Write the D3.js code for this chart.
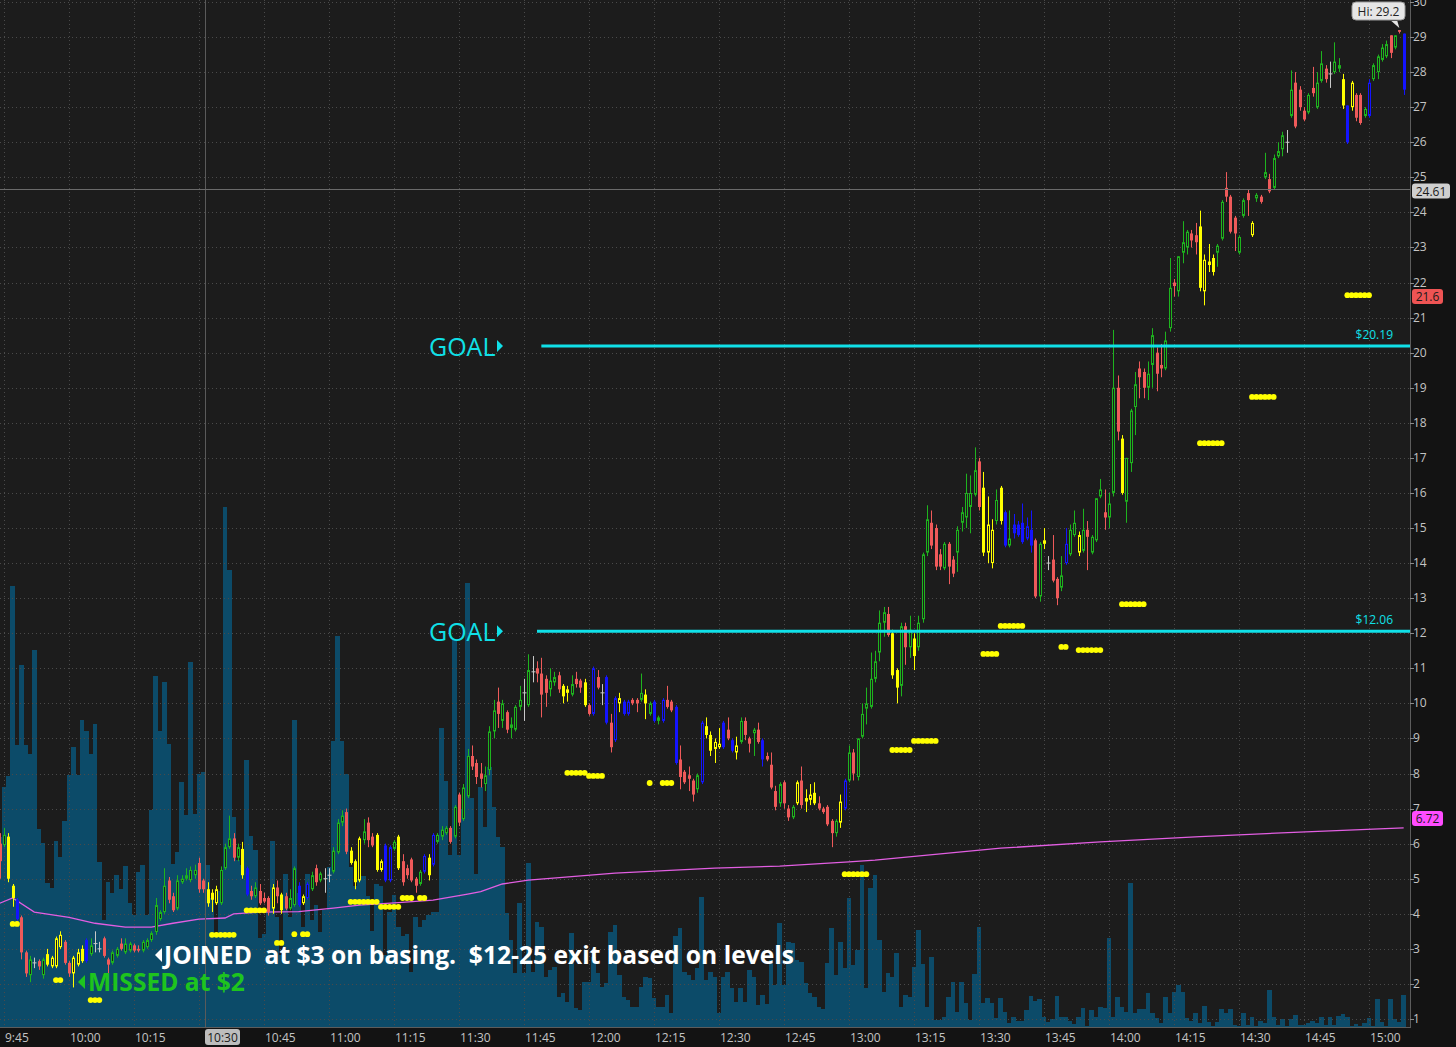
<!DOCTYPE html>
<html><head><meta charset="utf-8">
<script src="https://cdn.jsdelivr.net/npm/d3@7"></script>
<style>
body{margin:0;background:#141414;overflow:hidden}
svg{display:block;font-family:"Open Sans",sans-serif}
</style></head>
<body><svg id="chart" width="1456" height="1047"></svg>
<script>
// ---------- DATA ----------
// one-minute candles starting 9:44; [open, high, low, close, study colour]
const ohlc = [
[6.0,6.3,5.0,5.5,'r'],[5.96,6.45,5.9,6.25,'g'],[6.2,6.3,4.9,5.0,'y'],[4.8,4.85,4.2,4.45,'y'],[4.4,4.45,3.8,3.85,'b'],
[3.9,3.95,2.7,2.9,'r'],[2.9,2.95,2.2,2.3,'r'],[2.25,2.8,2.05,2.7,'g'],[2.6,2.75,2.45,2.6,'w'],[2.65,2.7,2.4,2.5,'r'],
[2.25,2.75,2.15,2.7,'g'],[2.85,3.0,2.5,2.55,'y'],[2.5,2.8,2.45,2.75,'y'],[2.5,3.35,2.45,3.3,'y'],[3.05,3.5,3.0,3.4,'y'],
[3.2,3.25,2.55,2.6,'r'],[2.6,2.65,2.2,2.3,'r'],[2.3,2.8,1.9,2.75,'y'],[2.55,3.0,2.5,2.9,'y'],[3.0,3.1,2.6,2.65,'y'],
[3.25,3.3,2.6,2.65,'b'],[2.85,3.3,2.8,3.1,'g'],[3.15,3.5,2.9,3.15,'w'],[3.0,3.2,2.9,3.15,'w'],[3.3,3.35,2.75,2.8,'r'],
[2.7,2.75,2.2,2.55,'r'],[2.6,2.95,2.55,2.9,'g'],[2.8,3.05,2.75,3.0,'g'],[3.15,3.3,2.95,3.0,'r'],[2.9,3.3,2.85,3.15,'g'],
[2.95,3.2,2.9,3.15,'g'],[3.1,3.15,2.9,2.95,'r'],[3.0,3.1,2.9,2.95,'r'],[2.95,3.25,2.9,3.2,'g'],[3.05,3.3,3.0,3.25,'g'],
[3.25,3.5,3.2,3.45,'g'],[3.48,4.45,3.4,4.25,'g'],[3.85,4.1,3.8,4.05,'g'],[4.05,5.3,4.0,4.8,'g'],[4.95,5.05,4.3,4.4,'r'],
[4.5,4.6,4.05,4.1,'r'],[4.15,5.1,4.1,4.95,'g'],[4.9,5.1,4.85,5.0,'g'],[5.0,5.3,4.95,5.1,'g'],[4.96,5.35,4.9,5.25,'g'],
[5.1,5.4,5.0,5.25,'g'],[5.45,5.6,4.6,4.7,'r'],[4.95,5.0,4.6,4.7,'r'],[4.7,4.9,4.2,4.3,'y'],[4.6,4.7,4.05,4.4,'y'],
[4.3,4.8,4.25,4.7,'y'],[4.3,5.35,4.25,5.25,'g'],[5.3,6.0,5.25,5.9,'g'],[5.9,6.8,5.85,6.15,'g'],[6.15,6.3,5.5,5.6,'r'],
[5.6,6.0,5.5,5.9,'g'],[5.85,6.05,5.0,5.1,'y'],[5.3,5.35,4.5,4.55,'b'],[4.65,4.8,4.4,4.5,'r'],[4.5,4.9,4.45,4.75,'g'],
[4.65,4.85,4.25,4.3,'r'],[4.45,4.6,4.3,4.35,'r'],[4.45,4.5,3.95,4.05,'r'],[4.15,4.85,4.0,4.75,'y'],[4.75,4.95,4.3,4.5,'r'],
[4.55,4.6,4.0,4.1,'y'],[4.5,4.6,4.1,4.15,'r'],[4.15,4.7,4.1,4.45,'g'],[4.25,5.35,4.2,5.3,'g'],[4.8,4.9,4.2,4.25,'b'],
[4.3,4.55,4.25,4.5,'y'],[4.45,4.9,4.4,4.85,'b'],[4.7,5.2,4.65,5.1,'g'],[5.3,5.4,4.8,4.9,'r'],[4.95,5.2,4.9,5.15,'g'],
[5.0,5.3,4.6,5.0,'w'],[5.1,5.3,4.9,5.1,'w'],[5.2,5.9,5.15,5.8,'g'],[5.75,6.7,5.7,6.6,'g'],[6.6,6.95,6.5,6.8,'g'],
[6.9,7.0,5.7,5.77,'r'],[5.8,5.9,5.4,5.45,'y'],[5.5,5.55,4.7,4.9,'y'],[4.95,6.2,4.9,6.15,'y'],[6.1,6.7,6.0,6.35,'g'],
[6.6,6.75,5.9,6.1,'r'],[6.2,6.3,5.9,5.95,'r'],[6.25,6.3,5.2,5.25,'y'],[5.25,5.55,5.2,5.5,'y'],[5.95,6.0,4.9,4.95,'b'],
[4.95,5.95,4.9,5.9,'b'],[5.85,6.1,5.8,6.05,'g'],[6.2,6.25,5.25,5.3,'y'],[5.5,5.7,4.8,4.9,'r'],[5.3,5.4,5.0,5.1,'r'],
[5.55,5.6,4.9,4.95,'r'],[5.0,5.05,4.6,4.8,'r'],[4.85,5.25,4.8,5.2,'g'],[5.2,5.7,5.15,5.65,'b'],[5.6,5.7,4.95,5.1,'y'],
[5.4,6.3,5.35,6.25,'b'],[6.05,6.3,6.0,6.25,'g'],[6.2,6.5,6.1,6.4,'g'],[6.3,6.5,6.25,6.45,'g'],[6.45,6.5,6.0,6.05,'r'],
[6.2,7.1,6.15,7.05,'g'],[7.4,7.45,6.5,6.6,'r'],[6.7,7.7,6.65,7.6,'g'],[7.35,8.7,7.3,8.5,'g'],[8.5,8.8,8.1,8.2,'r'],
[8.3,8.4,7.7,7.9,'r'],[8.0,8.3,7.6,7.85,'r'],[7.7,8.2,7.5,7.95,'g'],[8.1,9.35,7.95,9.2,'g'],[9.2,10.1,9.0,9.8,'g'],
[10.05,10.45,9.3,9.7,'r'],[9.5,10.1,9.3,10.0,'g'],[9.75,9.8,9.15,9.25,'r'],[9.3,9.6,9.0,9.4,'g'],[9.25,9.95,9.2,9.9,'g'],
[9.9,10.5,9.8,10.1,'g'],[10.3,10.7,9.5,10.3,'w'],[9.95,11.4,9.9,10.95,'g'],[10.9,11.35,10.6,10.9,'w'],[11.0,11.2,10.6,10.85,'r'],
[10.85,11.3,9.6,10.25,'r'],[10.7,10.8,9.9,10.3,'r'],[10.4,11.0,10.2,10.65,'g'],[10.6,10.9,10.5,10.75,'g'],[10.8,10.9,10.3,10.4,'r'],
[10.5,10.55,10.0,10.2,'y'],[10.3,10.5,10.05,10.4,'y'],[10.25,10.8,10.2,10.55,'g'],[10.7,10.9,10.45,10.55,'r'],[10.65,10.7,10.3,10.45,'r'],
[10.6,10.7,9.9,9.95,'y'],[9.95,10.0,9.65,9.7,'r'],[9.7,11.05,9.65,11.0,'b'],[10.75,10.95,10.4,10.45,'r'],[10.3,10.55,9.95,10.3,'w'],
[10.75,10.8,9.4,9.45,'b'],[9.45,9.7,8.6,8.75,'r'],[8.95,10.2,8.9,10.15,'b'],[10.0,10.3,9.75,10.15,'y'],[10.05,10.1,9.65,9.7,'b'],
[9.7,10.1,9.65,10.05,'b'],[10.1,10.15,9.95,10.0,'r'],[10.1,10.15,9.75,10.0,'r'],[10.1,10.85,10.05,10.3,'g'],[10.25,10.4,9.55,10.0,'y'],
[9.7,10.05,9.65,10.0,'g'],[10.05,10.1,9.45,9.5,'b'],[9.5,9.65,9.4,9.6,'g'],[9.5,10.15,9.45,10.1,'b'],[10.1,10.5,9.85,9.9,'r'],
[10.05,10.1,9.75,9.8,'r'],[9.9,9.95,8.25,8.3,'b'],[8.4,8.8,7.55,7.9,'r'],[8.05,8.1,7.7,7.75,'r'],[7.95,8.2,7.5,7.85,'r'],
[7.8,7.85,7.2,7.4,'r'],[7.55,8.0,7.45,7.95,'g'],[7.75,9.5,7.7,9.45,'b'],[9.35,9.6,9.0,9.1,'y'],[9.1,9.2,8.5,8.65,'y'],
[8.7,9.0,8.3,8.9,'y'],[8.75,9.3,8.7,8.85,'y'],[9.45,9.5,8.7,8.75,'b'],[9.25,9.6,8.95,9.0,'r'],[8.95,9.0,8.6,8.65,'b'],
[8.6,9.05,8.4,8.8,'y'],[8.9,9.6,8.85,9.5,'g'],[9.5,9.6,8.95,9.1,'r'],[9.0,9.05,8.6,8.85,'r'],[9.15,9.3,8.5,9.25,'g'],
[9.25,9.45,8.85,8.9,'r'],[8.95,9.0,8.2,8.4,'b'],[8.5,8.6,8.35,8.4,'r'],[8.25,8.6,7.55,7.6,'r'],[7.5,7.65,6.95,7.05,'r'],
[7.15,7.75,7.05,7.7,'g'],[7.75,7.8,7.0,7.15,'r'],[7.0,7.1,6.65,6.75,'r'],[6.75,7.1,6.7,7.05,'g'],[7.15,7.8,7.1,7.75,'y'],
[7.8,8.2,7.0,7.1,'r'],[7.2,7.55,6.9,7.3,'y'],[7.25,7.7,7.1,7.4,'y'],[7.45,7.75,7.1,7.15,'y'],[7.15,7.35,6.95,7.0,'r'],
[7.0,7.05,6.85,6.9,'r'],[7.05,7.1,6.5,6.55,'r'],[6.65,6.7,5.9,6.3,'r'],[6.3,6.7,6.2,6.65,'g'],[6.6,7.4,6.45,7.2,'y'],
[7.0,7.85,6.95,7.8,'b'],[7.8,8.8,7.75,8.6,'g'],[8.6,8.7,7.8,8.0,'r'],[7.9,9.0,7.8,9.0,'g'],[9.05,10.0,9.0,9.7,'g'],
[9.85,10.45,9.4,10.0,'g'],[9.9,11.45,9.85,10.7,'g'],[10.7,11.5,10.6,11.2,'g'],[11.45,12.65,11.2,12.3,'g'],[12.3,12.75,11.9,12.6,'g'],
[12.55,12.75,11.9,11.95,'r'],[12.0,12.1,10.7,10.8,'y'],[10.95,11.0,10.0,10.45,'y'],[10.5,12.3,10.2,12.2,'g'],[12.2,12.3,11.1,11.6,'r'],
[11.6,12.5,11.3,12.1,'g'],[11.85,12.0,10.95,11.35,'y'],[11.6,12.5,11.5,12.3,'g'],[12.4,14.3,12.3,14.25,'g'],[14.3,15.65,14.2,15.25,'g'],
[15.15,15.5,14.4,14.5,'r'],[15.0,15.1,13.8,13.9,'r'],[14.25,14.4,13.8,13.9,'r'],[13.85,14.6,13.8,14.55,'g'],[14.55,14.6,13.4,13.9,'r'],
[14.1,14.2,13.6,13.7,'r'],[14.3,15.05,13.75,14.95,'g'],[15.15,15.6,14.9,15.45,'g'],[15.3,16.55,15.0,16.0,'g'],[15.6,16.5,14.85,16.0,'g'],
[15.95,17.3,15.9,16.65,'g'],[16.9,17.0,15.5,15.6,'r'],[16.15,16.6,14.2,14.3,'y'],[14.3,15.9,14.0,15.1,'y'],[14.0,15.25,13.85,14.95,'y'],
[15.2,16.1,15.1,15.8,'g'],[16.15,16.2,15.1,15.2,'y'],[15.45,15.5,14.45,14.5,'b'],[14.5,15.5,14.45,14.7,'g'],[15.1,15.4,14.7,14.85,'b'],
[15.1,15.2,14.75,14.8,'b'],[15.15,15.7,14.55,14.6,'b'],[14.7,15.3,14.65,15.05,'b'],[14.95,15.5,14.3,14.5,'b'],[14.65,14.7,13.0,13.05,'r'],
[13.05,14.6,12.9,14.55,'g'],[14.55,15.0,14.4,14.65,'y'],[14.0,14.2,13.8,14.0,'w'],[14.1,14.8,13.45,13.5,'r'],[13.55,13.6,12.8,13.0,'r'],
[13.3,14.2,13.2,13.65,'g'],[14.0,15.0,13.95,14.55,'b'],[14.25,15.1,14.2,14.95,'g'],[14.8,15.5,14.75,15.15,'g'],[14.3,14.9,14.2,14.8,'y'],
[14.35,15.55,14.3,14.95,'g'],[14.95,15.2,13.8,14.75,'r'],[14.3,14.8,14.25,14.75,'g'],[14.65,15.85,14.6,15.85,'g'],[15.9,16.4,15.85,16.1,'g'],
[15.45,16.1,14.95,15.3,'r'],[15.3,16.0,15.0,15.7,'g'],[16.0,20.65,15.9,19.0,'g'],[19.0,19.35,17.5,17.75,'r'],[17.55,17.65,15.95,16.0,'y'],
[15.75,17.0,15.15,17.0,'g'],[16.85,18.4,16.6,18.35,'g'],[18.45,19.45,17.65,19.1,'g'],[19.55,19.75,18.7,19.3,'r'],[19.45,19.55,18.7,19.0,'r'],
[19.0,19.75,18.65,19.4,'g'],[19.65,20.7,19.0,20.5,'g'],[20.0,20.15,18.9,19.4,'r'],[19.65,20.25,19.3,19.55,'r'],[19.55,20.6,19.5,20.35,'g'],
[20.7,22.7,20.6,21.85,'g'],[22.0,22.1,21.6,21.9,'r'],[21.75,22.75,21.6,22.75,'g'],[22.85,23.75,22.55,23.15,'g'],[23.0,23.5,22.8,23.45,'g'],
[23.4,23.5,23.0,23.2,'r'],[23.35,23.7,22.8,23.15,'r'],[23.6,24.05,21.75,21.85,'y'],[21.75,22.8,21.35,22.65,'y'],[22.6,23.1,22.3,22.5,'y'],
[22.7,22.8,22.2,22.3,'y'],[22.85,23.1,22.45,23.05,'g'],[23.25,24.35,23.2,24.3,'g'],[24.7,25.15,24.3,24.45,'r'],[24.45,24.5,23.4,23.45,'r'],
[23.85,23.9,22.9,23.4,'r'],[22.85,23.35,22.8,23.3,'g'],[23.9,24.4,23.85,24.35,'g'],[24.55,24.65,23.9,24.35,'r'],[23.35,23.75,23.3,23.7,'y'],
[24.4,24.55,24.3,24.5,'g'],[24.45,24.5,24.25,24.3,'r'],[25.0,25.7,24.95,25.15,'g'],[24.95,25.1,24.55,24.6,'r'],[24.7,25.65,24.65,25.55,'g'],
[25.6,26.0,25.55,25.75,'g'],[25.8,26.3,25.6,26.2,'g'],[26.0,26.35,25.7,26.0,'w'],[26.75,28.05,26.7,27.5,'g'],[27.7,28.0,26.4,26.45,'r'],
[27.5,27.6,26.9,27.0,'r'],[26.9,27.0,26.6,26.65,'r'],[26.85,27.4,26.8,27.35,'g'],[27.55,28.15,27.3,27.4,'r'],[27.0,28.0,26.95,27.7,'g'],
[27.75,28.6,27.7,28.25,'g'],[28.1,28.2,27.7,27.8,'r'],[27.95,28.3,27.55,27.95,'w'],[28.0,28.85,27.95,28.3,'g'],[28.1,28.4,28.0,28.2,'g'],
[27.8,27.95,26.95,27.05,'y'],[27.05,27.05,25.95,26.0,'b'],[27.0,27.75,26.9,27.7,'y'],[27.35,27.4,26.6,26.7,'r'],[27.35,27.4,26.5,26.55,'r'],
[26.75,27.0,26.7,26.95,'g'],[26.75,27.8,26.7,27.7,'b'],[27.8,28.25,27.75,28.2,'g'],[28.0,28.5,27.8,28.45,'g'],[28.35,28.8,28.3,28.7,'g'],
[28.45,28.9,28.4,28.8,'g'],[29.05,29.05,28.4,28.55,'r'],[28.7,29.05,28.65,29.05,'g'],[29.2,29.2,29.1,29.15,'r'],[29.1,29.1,27.35,27.5,'b']
];
// volume per minute (thousands of shares)
const volume = [
190,240,251,441,282,362,282,273,377,198,184,144,139,186,170,206,252,280,252,307,
296,273,303,165,107,145,134,152,138,161,124,112,155,162,112,217,351,296,345,283,
163,175,245,212,365,213,253,255,162,129,91,136,520,457,210,167,162,267,191,177,
89,93,117,186,110,72,153,110,307,134,100,153,107,122,95,117,160,286,391,286,
253,160,141,148,151,131,96,143,141,72,115,132,100,91,93,55,110,100,107,112,
115,115,299,246,172,387,172,218,444,229,153,240,200,260,220,190,180,114,87,54,
124,54,164,55,105,100,50,57,60,30,34,25,94,19,17,45,45,70,54,40,
44,95,102,52,30,27,20,20,40,50,49,29,20,20,32,14,91,99,55,52,
47,59,130,47,55,50,14,50,55,39,25,39,25,57,50,22,32,23,67,42,
104,42,85,84,67,65,44,34,30,20,18,64,99,52,85,59,129,62,77,162,
39,139,152,87,35,54,50,74,20,32,30,60,97,63,20,70,7,7,10,30,
45,15,45,24,7,53,100,24,29,24,9,29,15,4,10,6,6,17,31,26,
28,10,5,8,31,10,10,6,3,10,19,1,17,10,20,19,89,10,30,20,
15,144,14,18,18,34,14,9,4,30,14,35,42,35,9,6,14,4,21,5,
1,5,18,14,18,2,1,14,2,10,1,6,4,37,10,2,8,1,8,12,
2,2,4,6,4,10,2,10,2,11,13,10,1,3,1,4,9,1,28,5,
1,28,8,5,32
];
// yellow study dots: [candle index, price]
const dotPoints = [
[3,3.71],[4,3.71],[13,2.11],[14,2.11],[21,1.54],[22,1.54],[23,1.54],
[49,3.4],[50,3.4],[51,3.4],[52,3.4],[53,3.4],[54,3.4],
[57,4.1],[58,4.1],[59,4.1],[60,4.1],[61,4.1],
[64,3.17],[65,3.17],[68,3.42],[70,3.42],[71,3.42],
[81,4.34],[82,4.34],[83,4.34],[84,4.34],[85,4.34],[86,4.34],[87,4.34],
[88,4.2],[89,4.2],[90,4.2],[91,4.2],[92,4.2],
[93,4.45],[94,4.45],[95,4.45],[97,4.45],[98,4.45],
[131,8.02],[132,8.02],[133,8.02],[134,8.02],[135,8.02],
[136,7.93],[137,7.93],[138,7.93],[139,7.93],
[150,7.73],[153,7.73],[154,7.73],[155,7.73],
[195,5.13],[196,5.13],[197,5.13],[198,5.13],[199,5.13],[200,5.13],
[206,8.67],[207,8.67],[208,8.67],[209,8.67],[210,8.67],
[211,8.93],[212,8.93],[213,8.93],[214,8.93],[215,8.93],[216,8.93],
[227,11.41],[228,11.41],[229,11.41],[230,11.41],
[231,12.21],[232,12.21],[233,12.21],[234,12.21],[235,12.21],[236,12.21],
[245,11.61],[246,11.61],
[249,11.52],[250,11.52],[251,11.52],[252,11.52],[253,11.52],[254,11.52],
[259,12.83],[260,12.83],[261,12.83],[262,12.83],[263,12.83],[264,12.83],
[277,17.42],[278,17.42],[279,17.42],[280,17.42],[281,17.42],[282,17.42],
[289,18.74],[290,18.74],[291,18.74],[292,18.74],[293,18.74],[294,18.74],
[311,21.64],[312,21.64],[313,21.64],[314,21.64],[315,21.64],[316,21.64]
];
// VWAP (pink line) read at candle indices
const vwapIdx = [0,3,8,16,22,29,35,40,46,52,54,60,69,77,83,92,100,108,111,116,122,142,165,180,196,202,231,254,277,300,324];
const vwapVal = [4.3,4.45,4.05,3.9,3.73,3.62,3.62,3.73,3.85,3.88,4.0,4.05,4.06,4.16,4.25,4.32,4.39,4.56,4.63,4.85,4.96,5.16,5.3,5.36,5.48,5.53,5.87,6.05,6.2,6.33,6.45];
// axes
const priceTicks = [1,2,3,4,5,6,7,8,9,10,11,12,13,14,15,16,17,18,19,20,21,22,23,24,25,26,27,28,29,30];
const timeTicks = [15,30,45,60,75,90,105,120,135,150,165,180,195,210,225,240,255,270,285,300,315,330]; // minutes after 9:30
const timeLabels = ["9:45","10:00","10:15","10:30","10:45","11:00","11:15","11:30","11:45","12:00","12:15","12:30","12:45","13:00","13:15","13:30","13:45","14:00","14:15","14:30","14:45","15:00"];
const cursorTimeLabel = "10:30";
// goal levels
const goalLevels = [20.19, 12.06];
const goalLabels = ["$20.19", "$12.06"];
const goalStartIdx = [125, 124];
const firstMinute = 14; // 9:44

// ---------- LAYOUT ----------
const W = 1456, H = 1047, PR = 1410, PB = 1027;
const svg = d3.select("#chart");
const x = d3.scaleLinear().domain([15, 330]).range([4, 1369]);
const xi = i => x(firstMinute + i);
const y = d3.scaleLinear().domain([1, 30]).range([1019, 2]);
const yv = d3.scaleLinear().domain([0, 1000]).range([PB, PB - 1000]);
const colors = {g:"#1eb41e", r:"#ef5a5a", y:"#ffff00", b:"#1414ff", w:"#c8c8c8"};
const BG = "#1c1c1c";

svg.append("rect").attr("width", W).attr("height", H).attr("fill", "#131313");
svg.append("rect").attr("width", PR).attr("height", PB).attr("fill", BG);
svg.append("clipPath").attr("id", "plot").append("rect").attr("width", PR).attr("height", PB);
const g = svg.append("g").attr("clip-path", "url(#plot)");

// volume
g.append("g").selectAll("rect").data(volume).join("rect")
  .attr("x", (d, i) => xi(i) - 2.17).attr("width", 4.34)
  .attr("y", d => yv(d)).attr("height", d => PB - yv(d))
  .attr("fill", "#0c4b69").attr("shape-rendering", "crispEdges");

// grid
g.append("g").selectAll("line").data(priceTicks).join("line")
  .attr("x1", 0).attr("x2", PR).attr("y1", d => Math.round(y(d)) + 0.5).attr("y2", d => Math.round(y(d)) + 0.5)
  .attr("stroke", "#4a4a4a").attr("stroke-dasharray", "1,3");
g.append("g").selectAll("line").data(timeTicks).join("line")
  .attr("x1", d => Math.round(x(d)) + 0.5).attr("x2", d => Math.round(x(d)) + 0.5).attr("y1", 0).attr("y2", PB)
  .attr("stroke", "#4a4a4a").attr("stroke-dasharray", "1,3");

// vwap
g.append("path").datum(vwapIdx.map((d, k) => [d, vwapVal[k]]))
  .attr("d", d3.line().x(d => xi(d[0])).y(d => y(d[1])))
  .attr("fill", "none").attr("stroke", "#e25ee2").attr("stroke-width", 1.3);

// dots
g.append("g").selectAll("circle").data(dotPoints).join("circle")
  .attr("cx", d => xi(d[0])).attr("cy", d => y(d[1])).attr("r", 2.9)
  .attr("fill", "#ffff00");

// candles
const candles = ohlc.map((d, i) => ({i, o:d[0], h:Math.max(d[1], d[0], d[3]), l:Math.min(d[2], d[0], d[3]), c:d[3], k:d[4]}));
const hollow = d => d.c > d.o && d.k !== 'r';
const cg = g.append("g").selectAll("g").data(candles).join("g");
cg.append("line")
  .attr("x1", d => Math.round(xi(d.i)) + 0.5).attr("x2", d => Math.round(xi(d.i)) + 0.5)
  .attr("y1", d => y(d.h)).attr("y2", d => y(d.l))
  .attr("stroke", d => colors[d.k]).attr("stroke-width", 1);
cg.filter(d => d.k !== 'w').append("rect")
  .attr("x", d => Math.round(xi(d.i)) - 1 + (hollow(d) ? 0.5 : 0))
  .attr("width", d => hollow(d) ? 2 : 3)
  .attr("y", d => y(Math.max(d.o, d.c)) + (hollow(d) ? 0.5 : 0))
  .attr("height", d => Math.max(1, Math.abs(y(d.o) - y(d.c)) - (hollow(d) ? 1 : 0)))
  .attr("fill", d => hollow(d) ? BG : colors[d.k])
  .attr("stroke", d => hollow(d) ? colors[d.k] : "none")
  .attr("stroke-width", 1);
cg.filter(d => d.k === 'w').append("line")
  .attr("x1", d => Math.round(xi(d.i)) - 1.5).attr("x2", d => Math.round(xi(d.i)) + 2.5)
  .attr("y1", d => y(d.o)).attr("y2", d => y(d.o))
  .attr("stroke", colors.w);

// goal lines
goalLevels.forEach((p, k) => {
  g.append("line").attr("x1", xi(goalStartIdx[k])).attr("x2", PR)
    .attr("y1", y(p)).attr("y2", y(p)).attr("stroke", "#10e0e8").attr("stroke-width", 3);
  g.append("text").attr("x", 1393).attr("y", y(p) - 7).attr("text-anchor", "end")
    .attr("fill", "#10e0e8").attr("font-size", 12).text(goalLabels[k]);
  svg.append("text").attr("x", 429).attr("y", y(p) + 10).attr("fill", "#10e0e8")
    .attr("font-size", 25).text("GOAL");
  const ty = y(p);
  svg.append("path").attr("d", `M497,${ty-6}L503,${ty}L497,${ty+6}Z`).attr("fill", "#10e0e8");
});

// crosshair
svg.append("line").attr("x1", 205.5).attr("x2", 205.5).attr("y1", 0).attr("y2", PB).attr("stroke", "#5a5a5a");
svg.append("line").attr("x1", 0).attr("x2", PR).attr("y1", 189.5).attr("y2", 189.5).attr("stroke", "#6a6a6a");

// axes frame
svg.append("line").attr("x1", PR + 0.5).attr("x2", PR + 0.5).attr("y1", 0).attr("y2", PB).attr("stroke", "#5c5c5c");
svg.append("line").attr("x1", 0).attr("x2", PR + 1).attr("y1", PB + 0.5).attr("y2", PB + 0.5).attr("stroke", "#5c5c5c");

// price axis
const pa = svg.append("g");
pa.selectAll("line").data(priceTicks).join("line")
  .attr("x1", PR).attr("x2", PR + 4).attr("y1", d => Math.round(y(d)) + 0.5).attr("y2", d => Math.round(y(d)) + 0.5)
  .attr("stroke", "#8a8a8a");
pa.selectAll("text").data(priceTicks).join("text")
  .attr("x", PR + 3).attr("y", d => y(d) + 4).attr("fill", "#c4c4c4").attr("font-size", 12).text(d => d);

// time axis (the 10:30 slot is covered by the cursor tag)
svg.append("g").selectAll("text")
  .data(timeTicks.map((t, k) => ({t, label: timeLabels[k]})).filter(d => d.label !== cursorTimeLabel))
  .join("text")
  .attr("x", d => x(d.t) + 1).attr("y", 1042).attr("fill", "#c4c4c4").attr("font-size", 12)
  .text(d => d.label);

// value boxes on the price axis
function tag(v, txt, fill, w) {
  const cy = y(v);
  svg.append("rect").attr("x", PR + 2).attr("y", cy - 7.5).attr("width", w).attr("height", 15).attr("rx", 3)
    .attr("fill", fill);
  svg.append("text").attr("x", PR + 2 + w / 2).attr("y", cy + 4.5).attr("text-anchor", "middle")
    .attr("fill", "#1a1a1a").attr("font-size", 12).text(txt);
}
tag(24.61, "24.61", "#cfcfcf", 38);
tag(21.6, "21.6", "#ee5454", 31);
tag(6.72, "6.72", "#ff4cff", 31);

// time crosshair tag
svg.append("rect").attr("x", 205).attr("y", 1029).attr("width", 35).attr("height", 16).attr("rx", 3).attr("fill", "#bdbdbd");
svg.append("text").attr("x", 222.5).attr("y", 1042).attr("text-anchor", "middle").attr("fill", "#1a1a1a")
  .attr("font-size", 12).text(cursorTimeLabel);

// Hi bubble
const hiX = xi(323), hiY = y(29.2);
svg.append("path").attr("d", `M${hiX-8},${hiY-9}L${hiX-2},${hiY-9}L${hiX},${hiY-2}Z`).attr("fill", "#e6e6e6");
svg.append("rect").attr("x", 1352).attr("y", 2).attr("width", 53).attr("height", 18).attr("rx", 4)
  .attr("fill", "#e6e6e6").attr("stroke", "#9a9a9a");
svg.append("text").attr("x", 1378.5).attr("y", 15.5).attr("text-anchor", "middle").attr("fill", "#222")
  .attr("font-size", 12).text("Hi: 29.2");

// annotations
svg.append("path").attr("d", "M155,955L162,948L162,962Z").attr("fill", "#ffffff");
svg.append("text").attr("x", 164).attr("y", 964).attr("fill", "#ffffff").attr("font-size", 24.6)
  .attr("font-weight", 700).style("white-space", "pre")
  .text("JOINED  at $3 on basing.  $12-25 exit based on levels");
svg.append("path").attr("d", "M78,982L85,975L85,989Z").attr("fill", "#1ec41e");
svg.append("text").attr("x", 88).attr("y", 991).attr("fill", "#1ec41e").attr("font-size", 24.6)
  .attr("font-weight", 700).text("MISSED at $2");
</script>
</body></html>
